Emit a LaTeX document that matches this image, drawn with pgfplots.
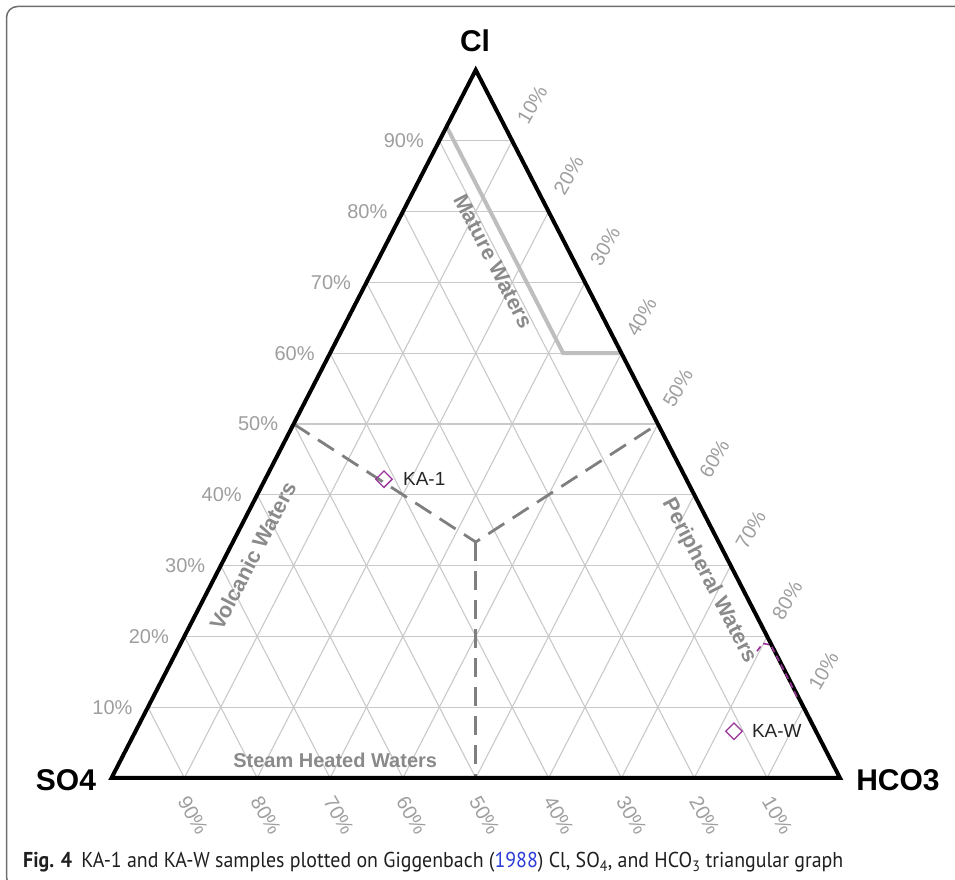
\documentclass[border=0pt]{standalone}
\usepackage{pgfplots}
\pgfplotsset{compat=1.18}
\usepackage{fontspec}
\setmainfont{Liberation Sans}
\newfontfamily\capfont{PT Sans}
\definecolor{gridc}{HTML}{C9C9C9}
\definecolor{tickc}{HTML}{9E9E9E}
\definecolor{regc}{HTML}{8A8A8A}
\definecolor{matc}{HTML}{BEBEBE}
\definecolor{dashc}{HTML}{7F7F7F}
\definecolor{ptc}{HTML}{993399}
\definecolor{linkc}{HTML}{2B3BD6}
\definecolor{framec}{HTML}{6E6E6E}
\begin{document}
\begin{tikzpicture}[x=1pt,y=1pt,
 tl/.style={font=\fontsize{20}{24}\selectfont, text=tickc, inner sep=0pt},
 rl/.style={font=\fontsize{21.5}{25}\selectfont\bfseries, text=regc, inner sep=0pt},
 vl/.style={font=\fontsize{30}{36}\selectfont\bfseries, text=black, inner sep=0pt}]
\path[use as bounding box] (0,0) rectangle (955,880);
\begin{scope}
\clip (0,0) rectangle (955,880);
\draw[framec, line width=1.5pt, rounded corners=11pt] (6.5,-8) rectangle (975,873.5);
\end{scope}
\begin{axis}[at={(111.5pt,102pt)}, anchor=south west, scale only axis,
 width=728.5pt, height=708pt, xmin=0, xmax=100, ymin=0, ymax=100,
 hide axis, clip=false]
% grid
\pgfplotsinvokeforeach{10,20,30,40,50,60,70,80,90}{
  \draw[gridc, line width=1.1pt] (axis cs:{#1/2},#1) -- (axis cs:{100-#1/2},#1);
  \draw[gridc, line width=1.1pt] (axis cs:#1,0) -- (axis cs:{(100+#1)/2},{100-#1});
  \draw[gridc, line width=1.1pt] (axis cs:#1,0) -- (axis cs:{#1/2},#1);
}
% mature waters boundary
\addplot[matc, line width=4pt, line join=miter] coordinates {(46,92) (62,60) (70,60)};
% dashed boundaries
\addplot[dashc, line width=2.8pt, dash pattern=on 19pt off 10pt] coordinates {(25,50) (50,33.33) (75,50)};
\addplot[dashc, line width=2.8pt, dash pattern=on 19pt off 10pt] coordinates {(50,33.33) (50,0)};
% triangle
\draw[black, line width=4pt, line join=miter] (axis cs:0,0) -- (axis cs:50,100) -- (axis cs:100,0) -- cycle;
% stray purple trace near right edge
\addplot[ptc, line width=1.6pt, dash pattern=on 6pt off 4pt] coordinates {(88.6,17.9) (89.4,19.0) (90.5,18.8) (91.6,16.6) (93.0,13.8) (94.3,11.0)};
% samples
\addplot[only marks, mark=square, mark size=5.8pt, mark options={rotate=45, ptc, line width=1.3pt, fill=white}] coordinates {(37.4,42.2) (85.45,6.6)};
\node[anchor=west, inner sep=0pt, font=\fontsize{19}{23}\selectfont, text=black!85] at (axis cs:40.0,42.2) {KA-1};
\node[anchor=west, inner sep=0pt, font=\fontsize{19}{23}\selectfont, text=black!85] at (axis cs:87.9,6.6) {KA-W};
% vertex labels
\node[vl] at (axis cs:49.9,104.1) {Cl};
\node[vl] at (axis cs:-6.25,-0.3) {SO4};
\node[vl] at (axis cs:107.96,-0.3) {HCO3};
% region labels
\node[rl, rotate=-62.7] at (axis cs:52.4,73.0) {Mature Waters};
\node[rl, rotate=62.7] at (axis cs:19.4,31.4) {Volcanic Waters};
\node[rl, rotate=-62.7] at (axis cs:82.0,27.8) {Peripheral Waters};
\node[rl, font=\fontsize{20}{24}\selectfont\bfseries] at (axis cs:30.7,2.5) {Steam Heated Waters};
% left tick labels (Cl)
\pgfplotsinvokeforeach{10,20,30,40,50,60,70,80,90}{
  \node[tl, anchor=east] at (axis cs:{#1/2-2.1},#1) {#1\%};
}
% right tick labels (HCO3)
\node[tl, rotate=60] at (axis cs:57.75,95.1) {10\%};
\node[tl, rotate=60] at (axis cs:62.75,85.1) {20\%};
\node[tl, rotate=60] at (axis cs:67.75,75.1) {30\%};
\node[tl, rotate=60] at (axis cs:72.75,65.1) {40\%};
\node[tl, rotate=60] at (axis cs:77.75,55.1) {50\%};
\node[tl, rotate=60] at (axis cs:82.75,45.1) {60\%};
\node[tl, rotate=60] at (axis cs:87.75,35.1) {70\%};
\node[tl, rotate=60] at (axis cs:92.75,25.1) {80\%};
\node[tl, rotate=60] at (axis cs:97.75,15.1) {10\%};
% bottom tick labels (SO4)
\node[tl, rotate=-60] at (axis cs:11.2,-5.3) {90\%};
\node[tl, rotate=-60] at (axis cs:21.2,-5.3) {80\%};
\node[tl, rotate=-60] at (axis cs:31.2,-5.3) {70\%};
\node[tl, rotate=-60] at (axis cs:41.2,-5.3) {60\%};
\node[tl, rotate=-60] at (axis cs:51.2,-5.3) {50\%};
\node[tl, rotate=-60] at (axis cs:61.4,-5.3) {40\%};
\node[tl, rotate=-60] at (axis cs:71.4,-5.3) {30\%};
\node[tl, rotate=-60] at (axis cs:81.4,-5.3) {20\%};
\node[tl, rotate=-60] at (axis cs:91.4,-5.3) {10\%};
\end{axis}
\node[anchor=base west, inner sep=0pt, font=\capfont\fontsize{21.5}{25}\selectfont, text=black!88] at (23,12)
 {\scalebox{0.925}[1]{\textbf{Fig. 4}\hspace{10pt}KA-1 and KA-W samples plotted on Giggenbach ({\color{linkc}1988}) Cl, SO\textsubscript{4}, and HCO\textsubscript{3} triangular graph}};
\end{tikzpicture}
\end{document}
